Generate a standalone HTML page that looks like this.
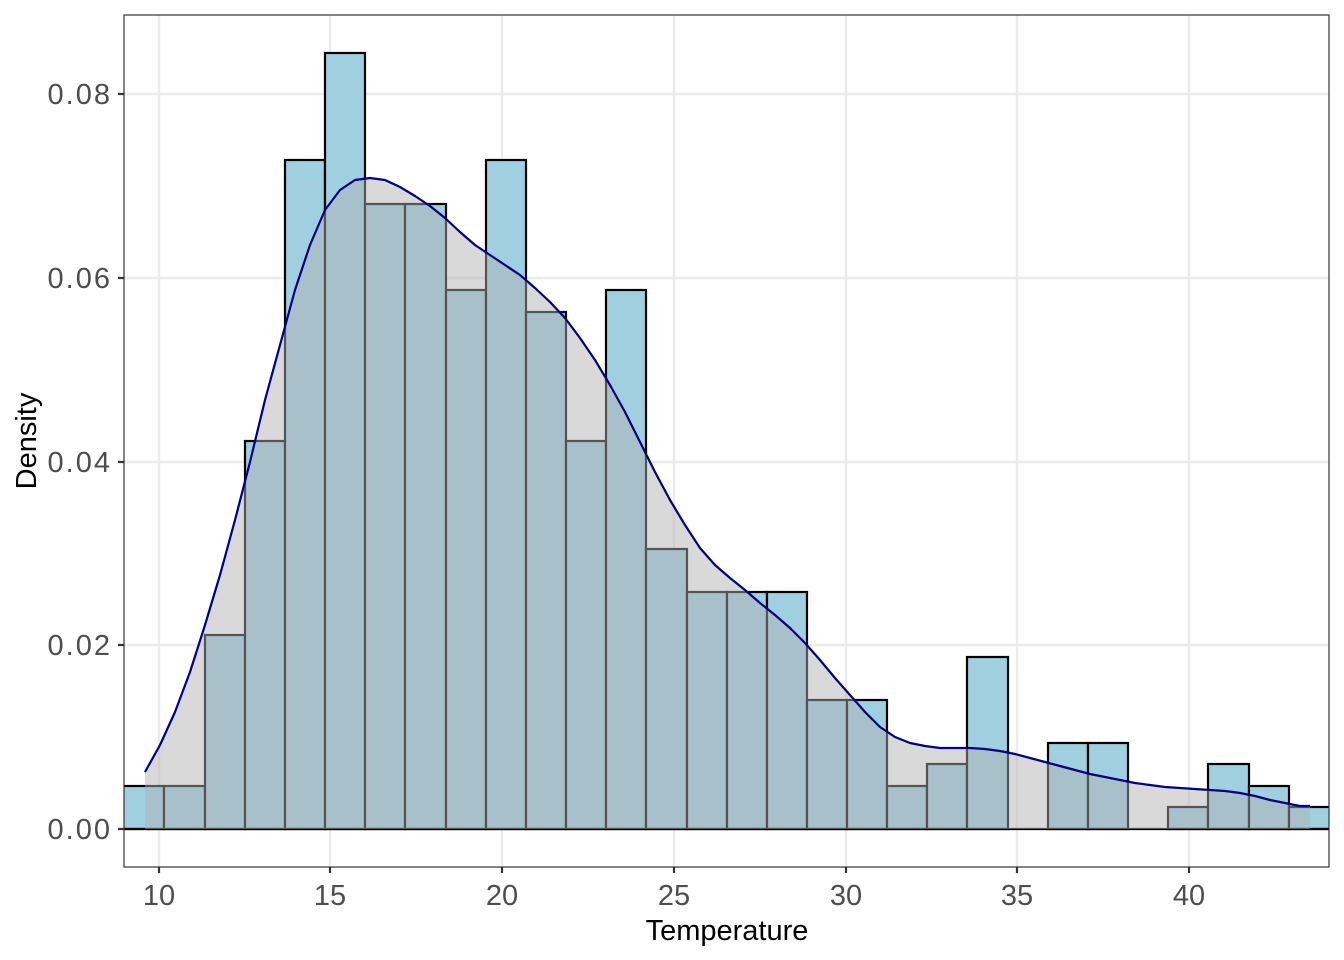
<!DOCTYPE html>
<html><head><style>body{margin:0;background:#fff}svg{display:block}text{font-family:"Liberation Sans",Arial,sans-serif}</style></head>
<body>
<svg width="1344" height="960" viewBox="0 0 1344 960">
<defs><clipPath id="c"><rect x="124" y="15" width="1205" height="852"/></clipPath></defs>
<rect x="124" y="15" width="1205" height="852" fill="#fff"/>
<g stroke="#EBEBEB" stroke-width="2.4" fill="none">
<path d="M124 829H1329M124 645H1329M124 462H1329M124 278H1329M124 94H1329"/>
<path d="M159 15V867M330 15V867M502 15V867M674 15V867M846 15V867M1017 15V867M1189 15V867"/>
</g>
<g clip-path="url(#c)" fill="#A0CFE0" stroke="#000" stroke-width="2.2">
<rect x="120" y="786" width="44" height="43"/>
<rect x="164" y="786" width="41" height="43"/>
<rect x="205" y="635" width="40" height="194"/>
<rect x="245" y="441" width="40" height="388"/>
<rect x="285" y="160" width="40" height="669"/>
<rect x="325" y="53" width="40" height="776"/>
<rect x="365" y="204" width="40" height="625"/>
<rect x="405" y="204" width="41" height="625"/>
<rect x="446" y="290" width="40" height="539"/>
<rect x="486" y="160" width="40" height="669"/>
<rect x="526" y="312" width="40" height="517"/>
<rect x="566" y="441" width="40" height="388"/>
<rect x="606" y="290" width="40" height="539"/>
<rect x="646" y="549" width="41" height="280"/>
<rect x="687" y="592" width="40" height="237"/>
<rect x="727" y="592" width="40" height="237"/>
<rect x="767" y="592" width="40" height="237"/>
<rect x="807" y="700" width="40" height="129"/>
<rect x="847" y="700" width="40" height="129"/>
<rect x="887" y="786" width="40" height="43"/>
<rect x="927" y="764" width="40" height="65"/>
<rect x="967" y="657" width="41" height="172"/>
<rect x="1048" y="743" width="40" height="86"/>
<rect x="1088" y="743" width="40" height="86"/>
<rect x="1168" y="807" width="40" height="22"/>
<rect x="1208" y="764" width="41" height="65"/>
<rect x="1249" y="786" width="40" height="43"/>
<rect x="1289" y="807" width="44" height="22"/>
<path d="M124 829H1329" fill="none"/>
</g>
<polygon points="145,772 160,745 175,712 190,672 205,625 220,575 235,520 250,462 265,400 280,345 295,290 310,245 325,210 340,190 355,180 370,178 385,180 400,187 415,196 430,206 445,218 460,232 475,245 490,255 505,265 520,275 535,288 550,302 565,318 580,338 595,360 610,385 625,412 640,442 655,472 670,500 685,525 700,548 715,565 730,578 745,590 760,603 775,615 790,628 805,643 820,660 835,678 850,695 865,712 880,727 895,737 910,743 925,746 940,748 955,748 970,748 985,749 1000,751 1015,754 1030,758 1045,762 1060,766 1075,770 1090,774 1105,777 1120,780 1135,783 1150,785 1165,787 1180,788 1195,789 1210,790 1225,791 1240,793 1255,796 1270,800 1285,803 1300,806 1310,806 1310,829 145,829" fill="#B0B0B0" fill-opacity="0.48"/>
<polyline points="145,772 160,745 175,712 190,672 205,625 220,575 235,520 250,462 265,400 280,345 295,290 310,245 325,210 340,190 355,180 370,178 385,180 400,187 415,196 430,206 445,218 460,232 475,245 490,255 505,265 520,275 535,288 550,302 565,318 580,338 595,360 610,385 625,412 640,442 655,472 670,500 685,525 700,548 715,565 730,578 745,590 760,603 775,615 790,628 805,643 820,660 835,678 850,695 865,712 880,727 895,737 910,743 925,746 940,748 955,748 970,748 985,749 1000,751 1015,754 1030,758 1045,762 1060,766 1075,770 1090,774 1105,777 1120,780 1135,783 1150,785 1165,787 1180,788 1195,789 1210,790 1225,791 1240,793 1255,796 1270,800 1285,803 1300,806 1310,806" fill="none" stroke="#000080" stroke-width="2.2" stroke-linejoin="round"/>
<rect x="124" y="15" width="1205" height="852" fill="none" stroke="#333" stroke-width="1.2"/>
<g stroke="#333" stroke-width="2.2">
<path d="M118 829H124M118 645H124M118 462H124M118 278H124M118 94H124"/>
<path d="M159 867V873M330 867V873M502 867V873M674 867V873M846 867V873M1017 867V873M1189 867V873"/>
</g>
<g font-size="29" fill="#4D4D4D" text-anchor="end" letter-spacing="2">
<text x="112" y="839">0.00</text><text x="112" y="655">0.02</text><text x="112" y="472">0.04</text><text x="112" y="288">0.06</text><text x="112" y="104">0.08</text>
</g>
<g font-size="29" fill="#4D4D4D" text-anchor="middle">
<text x="159" y="905">10</text><text x="330" y="905">15</text><text x="502" y="905">20</text><text x="674" y="905">25</text><text x="846" y="905">30</text><text x="1017" y="905">35</text><text x="1189" y="905">40</text>
</g>
<text x="727" y="940" font-size="29" text-anchor="middle" fill="#000">Temperature</text>
<text transform="translate(36 441) rotate(-90)" font-size="29" text-anchor="middle" fill="#000">Density</text>
</svg>
</body></html>
